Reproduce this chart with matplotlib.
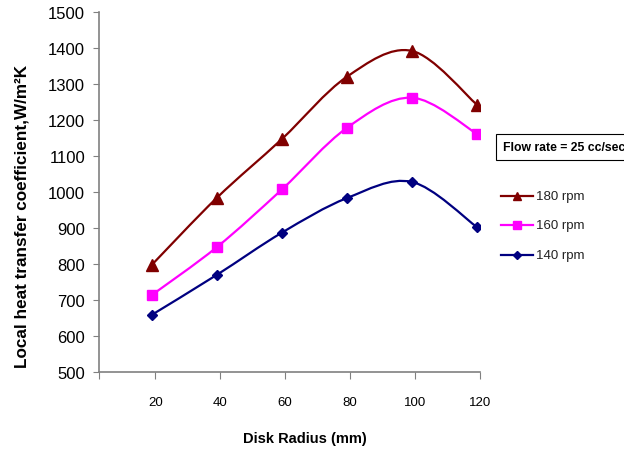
import numpy as np
import matplotlib
matplotlib.use("Agg")
import matplotlib.pyplot as plt
from matplotlib.path import Path
from matplotlib.patches import PathPatch
from matplotlib.lines import Line2D

plt.rcParams['font.family'] = ['Liberation Sans', 'DejaVu Sans']

radius = [19, 39, 59, 79, 99, 119]
tick_values = [20, 40, 60, 80, 100, 120]
rpm_180 = [798, 984, 1147, 1320, 1392, 1243]
rpm_160 = [714, 847, 1007, 1178, 1262, 1162]
rpm_140 = [659, 770, 887, 983, 1028, 903]

series = [
    ("180 rpm", rpm_180, "#800000", "^", 8),
    ("160 rpm", rpm_160, "#FF00FF", "s", 7.5),
    ("140 rpm", rpm_140, "#000080", "D", 5.5),
]


def smooth_path(x, y):
    """Bezier path through the points with Catmull-Rom style control points."""
    pts = np.column_stack([x, y]).astype(float)
    n = len(pts)
    verts = [pts[0]]
    codes = [Path.MOVETO]
    for i in range(n - 1):
        p0 = pts[i - 1] if i > 0 else pts[i]
        p1 = pts[i]
        p2 = pts[i + 1]
        p3 = pts[i + 2] if i + 2 < n else pts[i + 1]
        c1 = p1 + (p2 - p0) / 6.0
        c2 = p2 - (p3 - p1) / 6.0
        verts += [c1, c2, p2]
        codes += [Path.CURVE4] * 3
    return Path(verts, codes)


fig = plt.figure(figsize=(6.24, 4.52), dpi=100)
ax = fig.add_axes([99 / 624, 1 - 373 / 452, 381 / 624, 360 / 452])

for label, vals, color, marker, ms in series:
    ax.add_patch(PathPatch(smooth_path(radius, vals), fill=False,
                           edgecolor=color, lw=1.6, zorder=2))
    ax.plot(radius, vals, linestyle="none", marker=marker, ms=ms,
            color=color, zorder=3)

xmin = 2.7
ax.set_xlim(xmin, 120)
ax.set_ylim(500, 1500)
ax.set_xticks([xmin] + tick_values)
ax.set_xticklabels([""] + [str(v) for v in tick_values], fontsize=9.5)
ax.set_yticks(range(500, 1501, 100))
ax.tick_params(axis='y', labelsize=12, length=4, pad=6, color="#808080")
ax.tick_params(axis='x', length=5, pad=12, color="#808080")

for s in ["top", "right"]:
    ax.spines[s].set_visible(False)
for s in ["left", "bottom"]:
    ax.spines[s].set_color("#808080")
    ax.spines[s].set_linewidth(1.2)

fig.text(305 / 624, 1 - 439 / 452, "Disk Radius (mm)", ha="center",
         va="center", fontsize=10.5, fontweight="bold")
fig.text(22 / 624, 1 - 216 / 452, "Local heat transfer coefficient,W/m\u00b2K",
         ha="center", va="center", rotation=90, fontsize=12.3,
         fontweight="bold")

# Flow-rate note in a box
fig.text(503 / 624, 1 - 148 / 452, "Flow rate = 25 cc/sec", ha="left",
         va="center", fontsize=8.8, fontweight="bold",
         bbox=dict(boxstyle="square,pad=0.6", fc="white", ec="black", lw=0.8))

# Legend entries
rows_y = [197, 226, 256]
for (label, vals, color, marker, ms), ry in zip(series, rows_y):
    yf = 1 - ry / 452
    fig.add_artist(Line2D([501 / 624, 533 / 624], [yf, yf], color=color,
                          lw=1.6, transform=fig.transFigure))
    fig.add_artist(Line2D([517 / 624], [yf], marker=marker, ms=ms * 0.8,
                          color=color, linestyle="none",
                          transform=fig.transFigure))
    fig.text(536 / 624, yf, label, ha="left", va="center", fontsize=9.5,
             color="#222222")

fig.savefig("out.png", dpi=100)
